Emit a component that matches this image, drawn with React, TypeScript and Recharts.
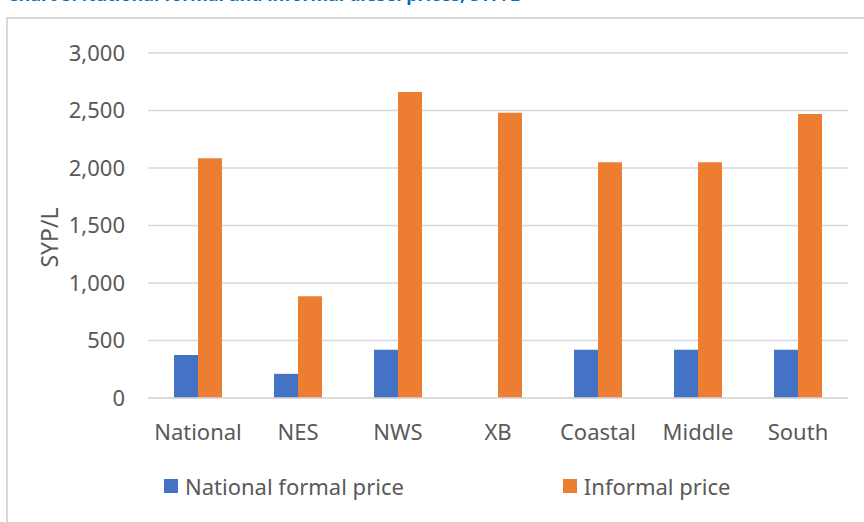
import React from 'react';
import { BarChart, Bar, XAxis, YAxis, CartesianGrid, Legend, Label } from 'recharts';

const regions = ['National', 'NES', 'NWS', 'XB', 'Coastal', 'Middle', 'South'];
const formalPrice = [375, 210, 420, 0, 420, 420, 420];
const informalPrice = [2085, 885, 2660, 2480, 2050, 2050, 2470];
const yTicks = [0, 500, 1000, 1500, 2000, 2500, 3000];

const BLUE = '#4472C4';
const ORANGE = '#ED7D31';
const TEXT = '#595959';
const FONT = '"Noto Sans", "Liberation Sans", sans-serif';

const data = regions.map((r, i) => ({
  region: r,
  formal: formalPrice[i],
  informal: informalPrice[i],
}));

const legendItems = [
  { label: 'National formal price', color: BLUE },
  { label: 'Informal price', color: ORANGE },
];

const ChartLegend = () => (
  <div
    style={{
      height: 64, boxSizing: 'border-box', paddingBottom: 8, display: 'flex', alignItems: 'center',
      fontFamily: FONT, fontSize: 22, color: TEXT,
    }}
  >
    {legendItems.map((it, i) => (
      <div key={it.label} style={{ display: 'flex', alignItems: 'center', marginLeft: i === 0 ? 116 : 159 }}>
        <span style={{ width: 14, height: 14, background: it.color, marginRight: 7, display: 'inline-block' }} />
        <span>{it.label}</span>
      </div>
    ))}
  </div>
);

// y-axis title, a bit lower than the plot middle like the original
const AxisTitle = ({ viewBox }: any) => {
  const cx = viewBox.x + 1;
  const cy = viewBox.y + viewBox.height / 2 + 12;
  return (
    <text
      x={cx}
      y={cy}
      transform={`rotate(-90 ${cx} ${cy})`}
      textAnchor="middle"
      dominantBaseline="central"
      fill={TEXT}
      fontSize={23}
      fontFamily={FONT}
    >
      SYP/L
    </text>
  );
};

export default function App() {
  return (
    <div style={{ position: 'absolute', left: 0, top: 0, width: 864, height: 522, overflow: 'hidden', background: '#fff' }}>
      <div
        style={{
          position: 'absolute', left: 7, top: -15.5, fontFamily: FONT, fontSize: 18, lineHeight: '18px',
          fontWeight: 'bold', color: '#0070C0', whiteSpace: 'nowrap',
        }}
      >
        Chart 5: National formal and informal diesel prices, SYP/L
      </div>
      <div
        style={{
          position: 'absolute', left: 6, top: 17, width: 880, height: 540,
          border: '2px solid #d9d9d9', boxSizing: 'border-box',
        }}
      />
      <div style={{ position: 'absolute', left: 0, top: 0 }}>
        <BarChart
          width={864}
          height={522}
          data={data}
          margin={{ top: 53, right: 16, bottom: 0, left: 48 }}
          barCategoryGap="26%"
          barGap={0}
        >
          <CartesianGrid vertical={false} stroke="#d9d9d9" strokeWidth={1.5} />
          <XAxis
            dataKey="region"
            height={60}
            tickLine={false}
            axisLine={{ stroke: '#d9d9d9', strokeWidth: 1.5 }}
            tickMargin={20}
            tick={{ fill: TEXT, fontSize: 22, fontFamily: FONT }}
            interval={0}
          />
          <YAxis
            width={100}
            domain={[0, 3000]}
            ticks={yTicks}
            tickLine={false}
            axisLine={false}
            tickMargin={17}
            tickFormatter={(v: number) => v.toLocaleString('en-US')}
            tick={{ fill: TEXT, fontSize: 22, fontFamily: FONT }}
          >
            <Label content={<AxisTitle />} />
          </YAxis>
          <Legend verticalAlign="bottom" content={<ChartLegend />} wrapperStyle={{ height: 64 }} />
          <Bar dataKey="formal" name="National formal price" fill={BLUE} isAnimationActive={false} />
          <Bar dataKey="informal" name="Informal price" fill={ORANGE} isAnimationActive={false} />
        </BarChart>
      </div>
    </div>
  );
}
